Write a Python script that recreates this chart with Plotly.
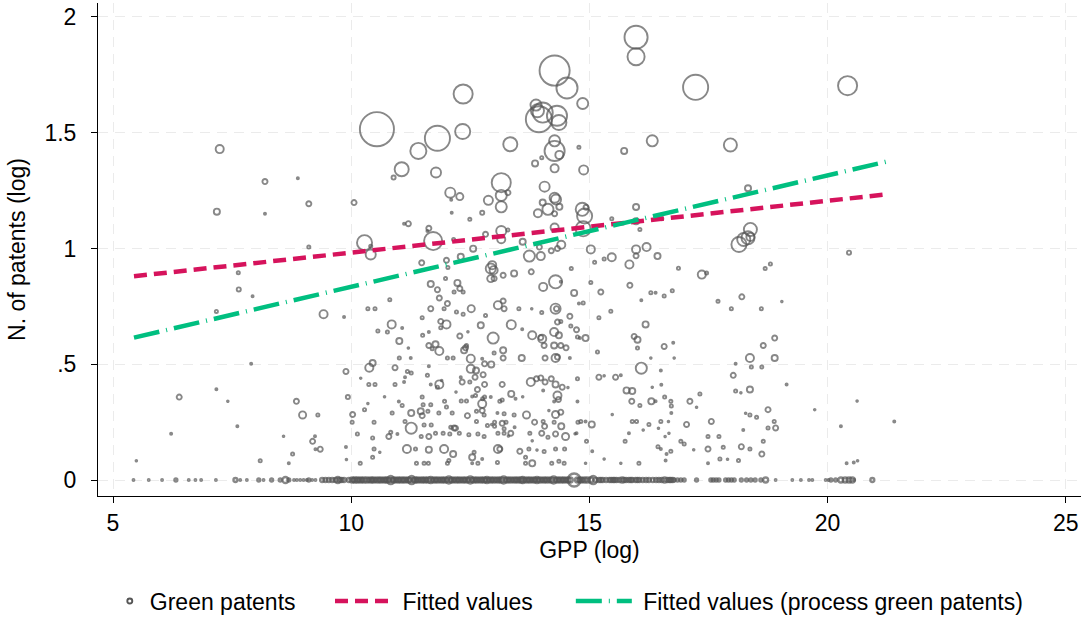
import plotly.graph_objects as go

# ---- Data: (GPP log, N. of patents log, weight) ----
pts_left = [
    (7.24,1.429,10),(7.18,1.159,8),(8.19,1.289,7),(8.88,1.303,4),(9.11,1.193,7),
    (8.19,1.15,4),(9.11,1.006,5),(7.63,0.895,5),(7.64,0.823,6),(7.93,0.794,4),
    (7.17,0.728,5),(9.42,0.716,10),(9.85,0.704,4),(7.90,0.502,4),(9.89,0.469,7),
    (6.39,0.358,7),(7.17,0.392,4),(7.41,0.340,2),(9.93,0.358,6),(8.85,0.340,7),
    (8.98,0.281,9),(9.30,0.281,5),(7.61,0.232,4),(6.22,0.200,4),(8.58,0.189,2),
    (9.24,0.189,4),(9.19,0.167,7),(9.35,0.133,7),(9.25,0.133,4),(8.77,0.112,5),
    (8.69,0.072,4),(8.09,0.083,5),(5.49,0.083,2),(9.89,0.143,4),(9.90,0.089,2),
]

pts_top_mid = [
    (10.54,1.515,36),(12.35,1.667,21),(12.34,1.505,17),(11.81,1.476,27),(11.41,1.421,18),
    (11.06,1.342,16),(10.89,1.306,6),(11.78,1.328,12),(10.06,1.198,7),(12.08,1.241,12),
    (12.28,1.224,9),(12.10,1.210,4),(12.11,1.154,4),(12.49,1.126,5),(12.75,1.154,6),
    (12.88,1.208,11),(13.15,1.284,21),(13.15,1.229,13),(13.15,1.18,13),(13.29,1.241,7),
    (13.34,1.45,16),(14.27,1.768,32),(14.53,1.693,23),(14.86,1.626,13),(13.88,1.619,13),
    (13.91,1.595,15),(13.94,1.558,28),(14.02,1.587,22),(14.32,1.573,22),(14.36,1.544,17),
    (14.27,1.465,13),(14.27,1.421,22),(14.37,1.404,10),(14.0,1.392,5),(13.86,1.367,8),
    (14.27,1.346,10),(14.78,1.437,5),(14.88,1.339,11),(14.06,1.267,12),(14.27,1.219,12),
    (14.02,1.198,8),(14.30,1.211,12),(14.13,1.169,13),(13.92,1.152,10),(14.37,1.18,8),
    (14.27,1.15,7),(14.27,1.09,10),(14.85,1.169,15),(14.90,1.14,17),(14.93,1.178,7),
    (14.87,1.085,17),(11.20,1.107,7),(11.11,1.107,4),(11.63,1.087,7),(11.60,1.075,4),
    (11.72,1.032,20),(10.28,1.025,17),(10.41,0.974,12),(10.41,1.01,5),(13.15,1.075,12),
    (13.15,1.04,10),(13.29,1.08,5),(12.82,1.061,7),(12.56,0.999,8),(12.15,1.039,5),
    (13.6,1.029,8),(13.95,1.006,7),(14.41,1.016,10),(14.33,1.0,7),(14.2,0.99,7),
    (13.74,0.967,13),(13.98,0.967,10),
]

pts_top_right = [
    (15.98,1.912,25),(15.98,1.828,19),(17.23,1.696,27),(20.42,1.703,21),(16.32,1.465,13),
    (15.73,1.421,8),(17.96,1.447,15),(18.33,1.26,8),(15.98,1.179,8),(15.47,1.128,5),
    (15.98,1.118,8),(16.52,1.128,5),(16.06,1.082,5),(18.38,1.082,15),(18.33,1.046,15),
    (18.24,1.039,15),(18.14,1.017,17),(18.38,1.05,10),(15.03,0.996,10),(15.98,0.996,10),
    (16.2,1.006,10),(15.98,0.968,7),(16.43,0.967,8),(15.47,0.962,10),(15.31,0.955,5),
    (15.11,0.94,5),(15.84,0.931,10),(16.87,0.915,5),(17.36,0.887,10),(17.46,0.894,5),
    (18.69,0.913,5),(18.80,0.933,5),(20.45,0.982,6),
]

pts_mid = [
    (11.48,0.938,7),(12.0,0.949,7),(12.03,0.918,5),(12.30,0.964,8),(12.93,0.913,12),
    (12.96,0.928,10),(12.99,0.906,10),(12.93,0.870,9),(13.0,0.870,7),(13.19,0.884,7),
    (13.42,0.892,8),(13.78,0.899,7),(14.62,0.913,5),(11.67,0.846,8),(11.81,0.822,7),
    (11.98,0.870,5),(12.23,0.851,8),(12.28,0.827,7),(12.35,0.812,5),(12.16,0.812,5),
    (14.03,0.834,10),(14.29,0.856,15),(14.40,0.856,4),(14.68,0.808,8),(10.81,0.779,5),
    (11.85,0.786,7),(12.02,0.762,7),(11.95,0.740,5),(11.67,0.740,7),(12.21,0.726,5),
    (12.35,0.716,5),(12.52,0.740,9),(12.82,0.711,5),(13.08,0.755,10),(13.19,0.773,7),
    (13.21,0.740,7),(13.52,0.740,5),(13.79,0.740,3),(14.00,0.723,5),(14.29,0.740,12),
    (14.31,0.740,7),(14.59,0.707,7),(14.78,0.762,4),(10.35,0.740,5),(10.50,0.740,5),
    (10.85,0.672,10),(10.56,0.644,5),(10.76,0.639,5),(11.07,0.657,4),(11.01,0.600,8),
    (11.49,0.701,5),(11.50,0.625,5),(11.63,0.639,4),(11.88,0.685,7),(12.00,0.672,10),
    (11.88,0.658,5),(12.28,0.622,7),(12.72,0.668,8),(12.98,0.613,13),(13.36,0.671,11),
    (13.59,0.651,4),(13.80,0.625,10),(13.98,0.615,7),(14.01,0.610,10),(14.05,0.581,7),
    (14.26,0.639,10),(14.36,0.625,8),(14.40,0.581,7),(14.51,0.571,7),(14.26,0.581,8),
    (14.61,0.665,5),(14.73,0.649,7),(14.75,0.618,5),(14.33,0.682,7),(14.40,0.685,5),
    (11.63,0.581,7),(11.77,0.586,8),(11.85,0.557,10),(11.70,0.567,5),(12.40,0.571,7),
    (12.37,0.560,8),(12.42,0.581,5),(12.51,0.524,10),(12.02,0.527,5),(12.14,0.527,5),
    (12.75,0.524,4),(12.80,0.502,7),(12.94,0.499,8),(13.19,0.560,8),(13.19,0.527,7),
    (13.00,0.548,5),(13.58,0.527,8),(14.07,0.527,7),(14.29,0.527,10),(14.33,0.531,7),
    (14.59,0.527,4),(11.01,0.527,5),(11.25,0.527,4),(10.38,0.485,10),(10.45,0.505,8),
    (10.92,0.485,7),(11.18,0.469,5),(11.26,0.462,5),(11.13,0.444,4),(11.63,0.491,4),
    (11.60,0.452,5),(12.51,0.480,10),(12.62,0.473,8),(12.60,0.444,7),(12.77,0.455,7),
    (12.30,0.444,4),(12.33,0.423,7),(12.49,0.423,5),(11.85,0.413,10),(11.81,0.401,5),
    (11.67,0.413,4),(10.37,0.413,5),(10.50,0.413,5),(10.92,0.413,5),(11.11,0.423,4),
    (12.80,0.413,7),(13.17,0.413,7),(13.77,0.423,10),(13.89,0.437,7),(13.98,0.441,7),
    (14.07,0.423,7),(14.20,0.437,7),(14.29,0.413,8),(14.43,0.401,7),(14.75,0.437,5),
    (14.03,0.387,4),(14.33,0.365,10),(12.65,0.391,7),(12.61,0.365,5),(12.80,0.358,5),
    (12.93,0.358,4),(13.17,0.346,5),(13.36,0.372,8),(13.45,0.351,4),(13.12,0.340,5),
    (11.49,0.358,5),(11.67,0.325,5),(11.51,0.325,5),(11.96,0.340,5),(12.00,0.315,5),
    (11.00,0.339,4),(11.07,0.322,5),(12.31,0.341,5),(12.42,0.341,5),(12.54,0.361,4),
    (12.75,0.329,10),(12.76,0.351,5),(12.75,0.300,7),(14.26,0.339,4),(14.35,0.348,7),
    (14.75,0.339,4),(10.03,0.283,7),(10.28,0.304,5),(10.86,0.289,5),(11.26,0.289,8),
    (11.46,0.297,8),(11.49,0.278,7),(11.61,0.297,5),(11.84,0.289,5),(12.12,0.289,5),
    (12.44,0.278,7),(12.63,0.297,5),(12.79,0.281,5),(13.07,0.289,4),(13.21,0.286,5),
    (13.42,0.281,5),(13.68,0.281,9),(14.29,0.283,9),(14.40,0.293,7),(10.02,0.250,5),
    (10.48,0.250,5),(11.13,0.253,5),(11.26,0.224,13),(11.53,0.238,5),(11.68,0.238,5),
    (12.09,0.228,5),(12.19,0.224,7),(12.63,0.253,5),(12.86,0.235,5),(13.01,0.250,5),
    (13.01,0.232,5),(13.17,0.245,7),(13.25,0.250,5),(13.21,0.221,5),(13.43,0.228,4),
    (13.85,0.250,7),(14.03,0.253,5),(14.06,0.232,7),(14.26,0.250,5),(14.41,0.232,8),
    (14.76,0.250,5),(10.83,0.206,5),(10.97,0.199,4),(10.79,0.188,7),(10.45,0.182,5),
    (10.13,0.199,5),(11.47,0.188,5),(11.63,0.188,7),(11.77,0.202,5),(11.93,0.202,5),
    (12.07,0.199,5),(12.16,0.225,7),(12.27,0.202,5),(12.47,0.196,5),(12.66,0.199,5),
    (12.79,0.188,5),(13.08,0.202,5),(13.21,0.202,5),(13.35,0.202,7),(13.75,0.202,5),
    (14.00,0.202,7),(14.13,0.185,5),(14.29,0.199,7),(14.50,0.188,9),(11.17,0.134,10),
    (11.35,0.134,5),(11.63,0.131,8),(11.95,0.134,10),(12.14,0.112,8),(10.48,0.134,5),
    (12.54,0.098,8),(12.58,0.120,5),(13.08,0.134,10),(13.12,0.134,7),(13.54,0.124,7),
    (13.73,0.134,5),(14.05,0.123,5),(14.29,0.134,5),(14.48,0.134,5),(10.19,0.072,5),
    (10.45,0.098,5),(11.37,0.072,5),(11.53,0.072,5),(11.62,0.072,5),(12.05,0.084,5),
    (12.02,0.072,5),(12.66,0.072,5),(12.75,0.091,4),(13.07,0.076,5),(13.80,0.072,8),
    (13.66,0.098,5),(14.21,0.072,5),(14.36,0.081,5),(14.47,0.072,5),(12.54,0.072,4),
    (13.66,0.072,5),
    (10.2,0.44,2),(10.35,0.33,2),(10.7,0.36,2),(11.2,0.57,2),(11.9,0.43,2),
    (12.45,0.64,2),(12.95,0.24,2),(13.3,0.19,2),(13.6,0.36,2),(13.9,0.13,2),
    (14.15,0.30,2),(14.55,0.40,2),(14.7,0.20,2),(10.6,0.12,2),(12.2,0.38,2),(13.8,0.17,2),
]

pts_right = [
    (14.87,0.765,5),(15.03,0.853,5),(15.24,0.812,7),(15.85,0.841,7),(16.09,0.776,4),
    (16.29,0.809,5),(16.39,0.809,4),(16.57,0.795,5),(16.74,0.817,5),(17.70,0.772,5),
    (18.20,0.791,7),(17.98,0.740,5),(18.61,0.740,5),(19.04,0.771,3),(15.45,0.729,5),
    (15.20,0.701,5),(16.18,0.672,8),(14.92,0.613,8),(14.80,0.613,4),(15.94,0.620,7),
    (16.01,0.606,8),(16.01,0.570,5),(16.57,0.577,7),(16.76,0.593,4),(15.17,0.553,5),
    (18.65,0.581,7),(18.89,0.613,7),(18.37,0.527,10),(18.89,0.527,8),(16.78,0.527,3),
    (16.29,0.527,2),(16.09,0.483,13),(16.50,0.473,4),(15.20,0.444,7),(15.55,0.444,7),
    (15.66,0.452,4),(16.51,0.411,4),(16.32,0.401,3),(15.78,0.387,8),(15.90,0.384,8),
    (15.89,0.340,7),(16.06,0.322,5),(16.30,0.340,8),(16.39,0.340,4),(16.58,0.358,5),
    (16.71,0.340,5),(16.72,0.320,5),(16.72,0.289,4),(17.11,0.340,7),(17.32,0.372,5),
    (17.25,0.314,2),(18.02,0.452,7),(18.07,0.502,4),(18.40,0.488,5),(18.62,0.488,5),
    (18.07,0.384,5),(18.18,0.377,3),(18.37,0.391,8),(19.14,0.413,4),(18.37,0.281,5),
    (18.51,0.271,5),(18.75,0.304,7),(14.73,0.202,4),(14.82,0.253,5),(14.92,0.253,4),
    (15.05,0.240,8),(15.90,0.253,5),(15.99,0.253,5),(16.25,0.240,5),(16.50,0.253,5),
    (16.66,0.253,3),(17.04,0.240,7),(17.56,0.253,7),(18.88,0.253,5),(18.75,0.225,5),
    (18.91,0.225,7),(18.23,0.216,4),(15.83,0.202,4),(16.13,0.216,3),(16.45,0.224,3),
    (16.67,0.202,3),(16.59,0.188,3),(14.94,0.167,5),(15.75,0.167,5),(16.92,0.167,5),
    (16.99,0.156,5),(17.49,0.188,5),(17.72,0.188,5),(18.65,0.167,5),(15.06,0.124,4),
    (16.44,0.144,5),(16.50,0.134,4),(16.71,0.124,5),(16.62,0.112,4),(17.49,0.134,7),
    (17.81,0.141,5),(18.19,0.144,7),(18.37,0.134,5),(18.62,0.112,7),(16.60,0.084,4),
    (16.04,0.072,5),(15.66,0.072,3),(17.49,0.072,4),(17.74,0.091,5),(18.13,0.084,5),
    (14.92,0.072,2),(15.31,0.091,2),(15.48,0.283,2),(18.28,0.288,2),(15.31,0.45,2),
    (17.19,0.131,2),(17.9,0.09,2),
    (19.73,0.304,2),(20.62,0.341,2),(20.28,0.232,4),(21.40,0.253,4),(20.40,0.072,4),
    (20.55,0.076,4),(20.63,0.083,2),
]

# firms with zero (log) patents
gpp_zero = [5.43,5.75,6.03,6.32,6.59,6.73,6.85,7.16,7.57,7.67,7.81,8.06,8.16,8.33,8.51,
    8.62,8.69,8.80,8.86,8.93,9.00,9.07,9.11,9.18,9.25,9.39,9.46,9.53,9.60,9.67,9.72,9.80,
    9.85,9.95,10.02,10.08,10.13,10.2,10.27,10.33,10.41,10.47,10.55,10.62,10.7,10.76,10.83,
    10.9,10.98,11.05,11.12,11.2,11.27,11.34,11.4,11.48,11.55,11.62,11.67,11.75,11.82,11.9,
    11.97,12.05,12.12,12.2,12.27,12.35,12.42,12.5,12.57,12.64,12.72,12.79,12.85,12.93,13.0,
    13.08,13.15,13.2,13.28,13.35,13.43,13.5,13.57,13.6,13.68,13.75,13.83,13.9,13.97,14.05,
    14.12,14.2,14.25,14.33,14.4,14.47,14.55,14.6,14.68,14.75,14.82,14.9,14.96,15.03,15.08,
    15.2,15.28,15.35,15.42,15.5,15.57,15.63,15.69,15.77,15.83,15.9,15.97,16.05,16.12,16.25,
    16.33,16.46,16.52,16.58,16.64,16.71,16.78,16.85,16.92,16.99,17.25,17.55,17.6,17.66,
    17.72,17.86,17.92,17.98,18.04,18.19,18.3,18.39,18.48,18.6,18.7,18.91,19.26,19.44,19.61,
    19.68,19.96,20.02,20.07,20.17,20.28,20.37,20.45,20.52,20.56,20.94,
    # extra points filling the dense band
    9.76,10.05,10.16,10.23,10.37,10.44,10.51,10.59,10.66,10.73,10.80,10.87,10.94,11.01,
    11.09,11.16,11.23,11.31,11.37,11.44,11.51,11.58,11.71,11.78,11.86,11.93,12.01,12.09,
    12.16,12.24,12.31,12.38,12.46,12.54,12.61,12.68,12.75,12.82,12.89,12.96,13.04,13.11,
    13.24,13.31,13.39,13.46,13.53,13.64,13.72,13.79,13.86,13.93,14.01,14.08,14.16,14.29,
    14.36,14.44,14.51,14.79,14.86,15.13,15.24,15.46,15.53,15.73,15.87,16.01,16.19,16.40,
    16.68,16.75,16.88]
w_zero = [2,2,2,5,2,2,2,2,6,2,2,5,2,5,5,
    8,5,2,2,2,2,2,5,2,2,6,6,6,6,6,8,6,
    6,6,7,7,7,7,7,7,7,7,7,7,7,7,10,
    7,7,7,7,7,10,7,7,7,7,7,8,7,7,7,
    7,9,7,7,7,7,7,9,7,7,7,7,8,7,7,
    7,7,9,7,7,7,7,7,8,7,7,7,8,7,7,
    7,7,9,7,7,7,7,7,15,7,7,7,7,7,10,
    6,6,6,6,6,6,6,7,6,6,6,6,6,6,6,
    6,6,6,7,6,6,5,5,5,5,5,5,5,
    5,5,5,5,5,5,5,5,5,5,5,7,2,2,2,
    2,2,2,2,5,5,7,7,7,7,2,
    6,6,6,6,6,6,6,6,6,6,6,6,6,6,
    6,6,6,6,6,6,6,6,6,6,6,6,6,6,
    6,6,6,6,6,6,6,6,6,6,6,6,6,6,
    6,6,6,6,6,6,6,6,6,6,6,6,6,6,
    6,6,6,6,6,6,6,6,6,6,6,6,6,6,
    6,6,6]

# fitted lines
fit_x = [5.44, 21.30]
fit_all = [0.880, 1.235]
fit_process = [0.615, 1.378]

xticks = [5, 10, 15, 20, 25]
yticks = [0, 0.5, 1, 1.5, 2]
yticklabels = ["0", ".5", "1", "1.5", "2"]

# ---- build ----
pts = pts_left + pts_top_mid + pts_top_right + pts_mid + pts_right
gx = [p[0] for p in pts]
gy = [p[1] for p in pts]
gw = [p[2] for p in pts]

GRAY = "#565656"
RED = "#D6135C"
GREEN = "#00BF80"
FONT = "Liberation Sans, Arial, Helvetica, sans-serif"
FS = 23
NB = "\u00a0"

fig = go.Figure()
fig.add_trace(go.Scatter(
    x=gpp_zero, y=[0.0] * len(gpp_zero), mode="markers", showlegend=False, hoverinfo="skip",
    marker=dict(symbol="circle-open", size=[max(w - 2.0, 1.6) for w in w_zero],
                sizemode="diameter", color=GRAY, line=dict(width=2.3, color=GRAY)),
))
fig.add_trace(go.Scatter(
    x=gx, y=gy, mode="markers", showlegend=False, hoverinfo="skip",
    marker=dict(symbol="circle-open", size=[max(w - 1.9, 1.6) for w in gw],
                sizemode="diameter", color=GRAY, line=dict(width=1.9, color=GRAY)),
))
fig.add_trace(go.Scatter(
    x=[None], y=[None], mode="markers", name="Green patents", legend="legend",
    marker=dict(symbol="circle-open", size=5, color=GRAY, line=dict(width=1.9, color=GRAY)),
))
fig.add_trace(go.Scatter(
    x=fit_x, y=fit_all, mode="lines", name=NB + "Fitted values", legend="legend2",
    line=dict(color=RED, width=4.5, dash="13px,7px"),
))
fig.add_trace(go.Scatter(
    x=fit_x, y=fit_process, mode="lines", name=NB + "Fitted values (process green patents)",
    legend="legend3",
    line=dict(color=GREEN, width=4.5, dash="26px,7px,1px,7px"),
))

axis_common = dict(
    showline=True, linecolor="black", linewidth=1, mirror=False,
    ticks="outside", ticklen=6, tickwidth=1, tickcolor="black",
    showgrid=True, gridcolor="#EBEBEB", gridwidth=1.3, griddash="10px,7px",
    zeroline=False, tickfont=dict(size=FS, color="black", family=FONT),
    automargin=False,
)
fig.update_xaxes(range=[4.685, 25.32], tickvals=xticks, ticktext=[str(t) for t in xticks],
                 title=dict(text="GPP (log)", font=dict(size=FS, color="black", family=FONT),
                            standoff=7),
                 **axis_common)
fig.update_yaxes(range=[-0.069, 2.06], tickvals=yticks, ticktext=yticklabels,
                 ticklabelstandoff=10,
                 title=dict(text="N. of patents (log)", font=dict(size=FS, color="black", family=FONT),
                            standoff=12),
                 **axis_common)

leg_common = dict(orientation="h", y=-0.213, yanchor="middle", xanchor="left",
                  font=dict(size=FS, color="black", family=FONT), bgcolor="rgba(0,0,0,0)")
fig.update_layout(
    width=1085, height=620,
    margin=dict(l=98, r=4, t=3, b=124, autoexpand=False),
    plot_bgcolor="white", paper_bgcolor="white",
    font=dict(family=FONT, size=FS, color="black"),
    legend=dict(x=0.012, itemwidth=30, **leg_common),
    legend2=dict(x=0.236, itemwidth=56, **leg_common),
    legend3=dict(x=0.481, itemwidth=56, **leg_common),
)

fig.write_html("out.html", config={"displayModeBar": False},
               post_script="document.body.style.margin='0';document.body.style.overflow='hidden';")
